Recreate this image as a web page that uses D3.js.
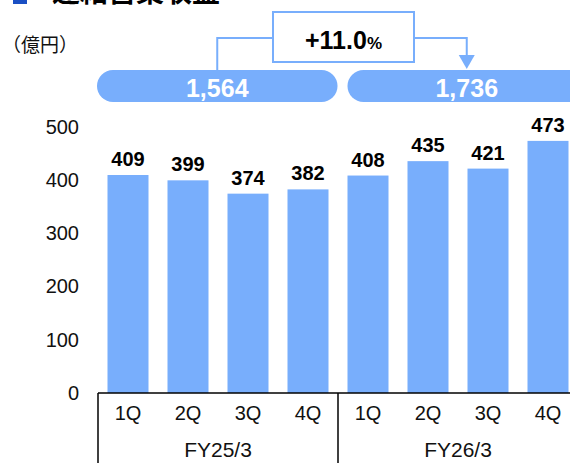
<!DOCTYPE html>
<html><head><meta charset="utf-8">
<script src="https://cdn.jsdelivr.net/npm/d3@7"></script>
<style>
html,body{margin:0;padding:0;background:#fff;}
svg{display:block;font-family:"Liberation Sans",Arial,sans-serif;}
</style></head>
<body><svg id="c" width="570" height="463"></svg>
<script>
const quarters = ["1Q","2Q","3Q","4Q","1Q","2Q","3Q","4Q"];
const values = [409,399,374,382,408,435,421,473];
const fiscalYears = ["FY25/3","FY26/3"];
const yearTotals = ["1,564","1,736"];
const growthLabel = "+11.0";
const yTicks = [0,100,200,300,400,500];
const unitLabel = "（億円）";
const titleText = "連結営業収益";

const svg = d3.select("#c");
const blue = "#78aefc";
const baseY = 393;
const x = d3.scaleBand().domain(d3.range(values.length)).range([98, 578]).paddingInner(19/60).paddingOuter(9.5/60);
const y = d3.scaleLinear().domain([0, 500]).range([baseY, 126.5]);
const bw = x.bandwidth();

// title (cut off at top, as in the source)
svg.append("rect").attr("x", 13).attr("y", -12).attr("width", 14).attr("height", 16).attr("fill", "#1a4fc4");
svg.append("text").attr("x", 52).attr("y", 1.5).attr("font-size", 28).attr("font-weight", "bold")
  .attr("font-family", "'Noto Sans CJK JP',sans-serif").attr("fill", "#000").text(titleText);

svg.append("text").attr("x", 2).attr("y", 52).attr("font-size", 19)
  .attr("font-family", "'Noto Sans CJK JP',sans-serif").attr("fill", "#111").text(unitLabel);

// y tick labels
svg.append("g").selectAll("text").data(yTicks).join("text")
  .attr("x", 79).attr("y", d => y(d)).attr("dy", "0.35em").attr("text-anchor", "end")
  .attr("font-size", 20).attr("fill", "#111").text(d => d);

// bars
svg.append("g").selectAll("rect").data(values).join("rect")
  .attr("x", (d, i) => x(i)).attr("y", d => y(d)).attr("width", bw).attr("height", d => baseY - y(d))
  .attr("fill", blue);

// value labels
svg.append("g").selectAll("text").data(values).join("text")
  .attr("x", (d, i) => x(i) + bw / 2).attr("y", d => y(d) - 9).attr("text-anchor", "middle")
  .attr("font-size", 20).attr("font-weight", "bold").attr("fill", "#000").text(d => d);

// axis lines
svg.append("line").attr("x1", 98).attr("x2", 570).attr("y1", baseY).attr("y2", baseY).attr("stroke", "#000").attr("stroke-width", 1.5);
const sepX = [x(0) - (x.step() - bw) / 2, x(4) - (x.step() - bw) / 2];
sepX.forEach(sx => svg.append("line").attr("x1", sx).attr("x2", sx).attr("y1", baseY).attr("y2", 463).attr("stroke", "#000").attr("stroke-width", 1.5));

// category labels
svg.append("g").selectAll("text").data(quarters).join("text")
  .attr("x", (d, i) => x(i) + bw / 2).attr("y", 420).attr("text-anchor", "middle")
  .attr("font-size", 20).attr("fill", "#111").text(d => d);

svg.append("g").selectAll("text").data(fiscalYears).join("text")
  .attr("x", (d, i) => (x(i * 4) + x(i * 4 + 3) + bw) / 2).attr("y", 457).attr("text-anchor", "middle")
  .attr("font-size", 21).attr("fill", "#111").text(d => d);

// pills
const pills = [
  {x0: x(0) - 10.5, x1: x(3) + bw + 9},
  {x0: x(4), x1: x(7) + bw + 17.5}
];
pills.forEach((p, i) => {
  svg.append("rect").attr("x", p.x0).attr("y", 70).attr("width", p.x1 - p.x0).attr("height", 32)
    .attr("rx", 16).attr("fill", blue);
  svg.append("text").attr("x", (p.x0 + p.x1) / 2).attr("y", 97).attr("text-anchor", "middle")
    .attr("font-size", 25).attr("font-weight", "bold").attr("fill", "#fff").text(yearTotals[i]);
});

// connector
const cx0 = (pills[0].x0 + pills[0].x1) / 2, cx1 = (pills[1].x0 + pills[1].x1) / 2;
const boxX0 = 273, boxX1 = 414, lineY = 38;
svg.append("path").attr("d", `M${cx0},70 V${lineY} H${boxX0}`).attr("fill", "none").attr("stroke", blue).attr("stroke-width", 2);
svg.append("path").attr("d", `M${boxX1},${lineY} H${cx1} V56`).attr("fill", "none").attr("stroke", blue).attr("stroke-width", 2);
svg.append("path").attr("d", `M${cx1 - 8},55 L${cx1 + 8},55 L${cx1},69 Z`).attr("fill", blue);
svg.append("rect").attr("x", boxX0).attr("y", 12).attr("width", boxX1 - boxX0).attr("height", 50)
  .attr("fill", "#fff").attr("stroke", blue).attr("stroke-width", 2);
const gt = svg.append("text").attr("x", (boxX0 + boxX1) / 2).attr("y", 49).attr("text-anchor", "middle")
  .attr("font-weight", "bold").attr("fill", "#000");
gt.append("tspan").attr("font-size", 25).text(growthLabel);
gt.append("tspan").attr("font-size", 17).text("%");
</script></body></html>
